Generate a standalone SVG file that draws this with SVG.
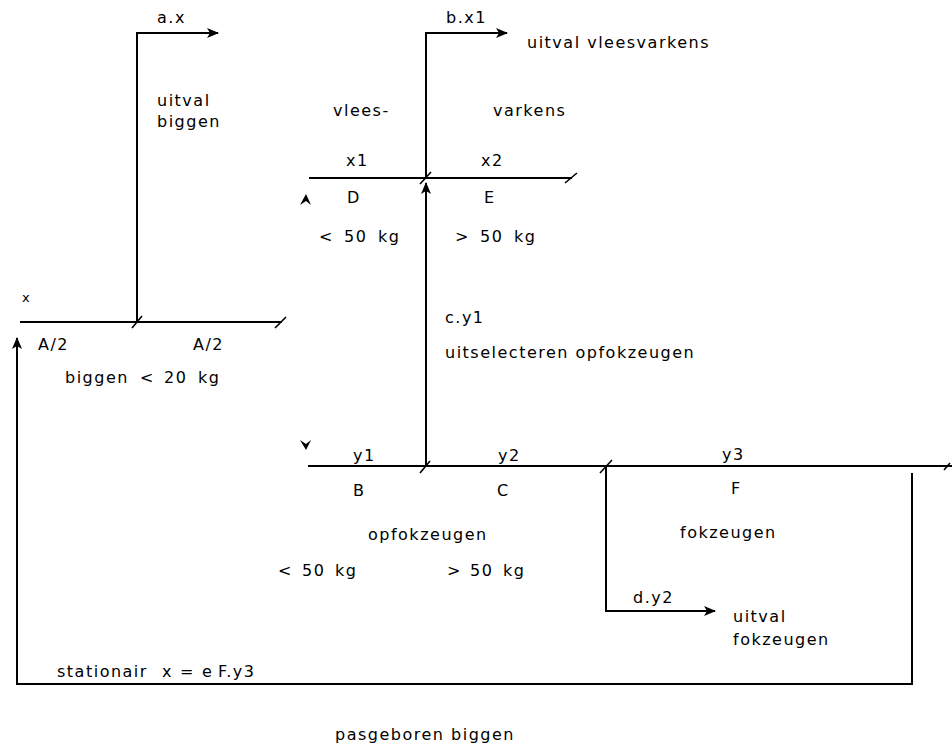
<svg xmlns="http://www.w3.org/2000/svg" width="952" height="749" viewBox="0 0 952 749">
<style>
text{font-family:"DejaVu Sans","Liberation Sans",sans-serif;font-size:16px;letter-spacing:1.5px;fill:#000;white-space:pre}
.sm{font-size:13px}
.ln{stroke:#000;stroke-width:2;fill:none}
.sl{stroke:#000;stroke-width:1.6;fill:none}
.ah{fill:#000;stroke:none}
</style>
<defs>
<marker id="arr" viewBox="0 0 12 10" refX="11" refY="5" markerWidth="12" markerHeight="10" markerUnits="userSpaceOnUse" orient="auto">
<path class="ah" d="M0,0 L12,5 L0,10 L3,5 Z"/>
</marker>
</defs>
<rect width="952" height="749" fill="#fff"/>
<g id="connectors">
<path class="ln" d="M137,322 V33 H218" marker-end="url(#arr)"/>
<path class="ln" d="M426,178 V33 H507" marker-end="url(#arr)"/>
<path class="ln" d="M426,466 V183" marker-end="url(#arr)"/>
<path class="ln" d="M606,466 V611 H715" marker-end="url(#arr)"/>
<path class="ln" d="M912,473 V684 H17 V338" marker-end="url(#arr)"/>
<path class="ah" d="M300,205 L306,194 L311,205 L306,201 Z"/>
<path class="ah" d="M300,440 L306,450 L311,440 L306,444 Z"/>
</g>
<g id="node-biggen">
<path class="ln" d="M20,322 H282"/>
<path class="sl" d="M132,328 L142,316 M275,328 L286,317"/>
<text x="22" y="302" class="sm">x</text>
<text x="38" y="350">A/2</text>
<text x="193" y="350">A/2</text>
<text y="383"><tspan x="65">biggen</tspan><tspan x="140">&lt;</tspan><tspan x="164">20</tspan><tspan x="198">kg</tspan></text>
</g>
<g id="node-uitval-biggen">
<text x="157" y="23">a.x</text>
<text x="157" y="106">uitval</text>
<text x="157" y="127">biggen</text>
</g>
<g id="node-vleesvarkens">
<path class="ln" d="M309,178 H572"/>
<path class="sl" d="M420,184 L431,172 M565,183 L577,173"/>
<text x="333" y="116">vlees-</text>
<text x="493" y="116">varkens</text>
<text x="346" y="166">x1</text>
<text x="481" y="166">x2</text>
<text x="347" y="203">D</text>
<text x="484" y="203">E</text>
<text y="242"><tspan x="319">&lt;</tspan><tspan x="344">50</tspan><tspan x="378">kg</tspan></text>
<text y="242"><tspan x="455">&gt;</tspan><tspan x="480">50</tspan><tspan x="514">kg</tspan></text>
</g>
<g id="node-uitval-vleesvarkens">
<text x="446" y="23">b.x1</text>
<text x="527" y="48">uitval vleesvarkens</text>
</g>
<g id="node-uitselecteren">
<text x="445" y="323">c.y1</text>
<text x="445" y="358">uitselecteren opfokzeugen</text>
</g>
<g id="node-zeugen">
<path class="ln" d="M308,466 H952"/>
<path class="sl" d="M420,473 L430,461 M600,473 L612,460 M944,470 L950,463"/>
<text x="353" y="461">y1</text>
<text x="498" y="461">y2</text>
<text x="722" y="460">y3</text>
<text x="353" y="496">B</text>
<text x="497" y="496">C</text>
<text x="731" y="494">F</text>
<text x="368" y="540">opfokzeugen</text>
<text x="680" y="538">fokzeugen</text>
<text y="576"><tspan x="278">&lt;</tspan><tspan x="302">50</tspan><tspan x="335">kg</tspan></text>
<text y="576"><tspan x="447">&gt;</tspan><tspan x="470">50</tspan><tspan x="503">kg</tspan></text>
</g>
<g id="node-uitval-fokzeugen">
<text x="633" y="603">d.y2</text>
<text x="733" y="622">uitval</text>
<text x="733" y="645">fokzeugen</text>
</g>
<g id="node-stationair">
<text y="677"><tspan x="57">stationair</tspan><tspan x="162">x</tspan><tspan x="180">=</tspan><tspan x="202">e</tspan><tspan x="218">F.y3</tspan></text>
</g>
<g id="node-pasgeboren">
<text x="335" y="740">pasgeboren biggen</text>
</g>
</svg>
